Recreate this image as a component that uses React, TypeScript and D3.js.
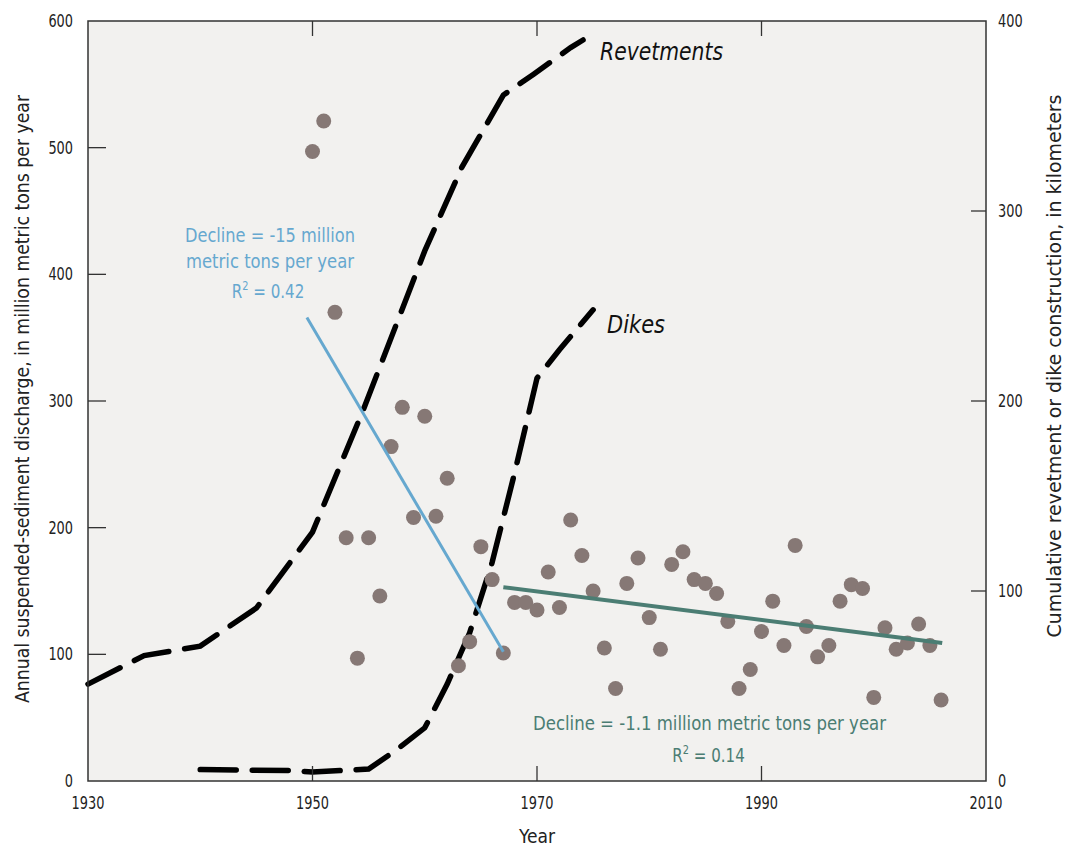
import React from "react";
import * as d3 from "d3";

const years = d3.range(1950, 2007);
const sediment = [497,521,370,192,97,192,146,264,295,208,288,209,239,91,110,185,159,101,141,141,135,165,137,206,178,150,105,73,156,176,129,104,171,181,159,156,148,126,73,88,118,142,107,186,122,98,107,142,155,152,66,121,104,109,124,107,64];

const revetYears = [1930,1935,1940,1945,1950,1954.5,1960,1963.3,1967,1969.7,1973,1974.1];
const revetKm = [51,66,71,91,131,195,279,323,361,372,386,390];

const dikeYears = [1940,1948,1950,1955,1957.4,1960,1962,1964,1966,1968,1970,1972,1975];
const dikeKm = [6,5.5,4.7,6.3,16,28,51,78,115,162,212,227,248];

const trend1Years = [1949.5, 1967];
const trend1Vals = [366, 102];
const trend2Years = [1967, 2006.1];
const trend2Vals = [153, 109];

const leftTicks = [0,100,200,300,400,500,600];
const rightTicks = [0,100,200,300,400];
const xTicks = [1930,1950,1970,1990,2010];

const FONT = "'Liberation Sans Narrow','Arial Narrow','DejaVu Sans Condensed',sans-serif";

function NumLabel(props: { x: number; y: number; anchor: string; text: string; dy?: string }) {
  const len = props.text.length * 8.2;
  return (
    <text x={props.x} y={props.y} dy={props.dy} textAnchor={props.anchor} fontSize={17} fill="#222"
      textLength={len} lengthAdjust="spacingAndGlyphs">{props.text}</text>
  );
}

export default function App() {
  const W = 1067, H = 848;
  const x0 = 88, x1 = 986, yTop = 21, yBot = 781;
  const x = d3.scaleLinear().domain([1930, 2010]).range([x0, x1]);
  const yL = d3.scaleLinear().domain([0, 600]).range([yBot, yTop]);
  const yR = d3.scaleLinear().domain([0, 400]).range([yBot, yTop]);

  const revetLine = d3.line<number>().x((_, i) => x(revetYears[i])).y((d) => yR(d))(revetKm) || "";
  const dikeLine = d3.line<number>().x((_, i) => x(dikeYears[i])).y((d) => yR(d))(dikeKm) || "";
  const t1 = d3.line<number>().x((_, i) => x(trend1Years[i])).y((d) => yL(d))(trend1Vals) || "";
  const t2 = d3.line<number>().x((_, i) => x(trend2Years[i])).y((d) => yL(d))(trend2Vals) || "";

  const blue = "#66a8cf";
  const green = "#4b7d73";
  const axisColor = "#333";

  return (
    <svg width={W} height={H} style={{ position: "absolute", left: 0, top: 0, background: "#fff" }} fontFamily={FONT}>
      <rect x={x0} y={yTop} width={x1 - x0} height={yBot - yTop} fill="#f2f1ef" />
      {/* data lines */}
      <path d={revetLine} fill="none" stroke="#000" strokeWidth={5.5} strokeDasharray="36 16" strokeLinecap="round" />
      <path d={dikeLine} fill="none" stroke="#000" strokeWidth={5.5} strokeDasharray="36 16" strokeLinecap="round" />
      {years.map((yr, i) => (
        <circle key={yr} cx={x(yr)} cy={yL(sediment[i])} r={7.5} fill="#867875" />
      ))}
      <path d={t1} fill="none" stroke={blue} strokeWidth={3} />
      <path d={t2} fill="none" stroke={green} strokeWidth={4} />

      {/* frame */}
      <rect x={x0} y={yTop} width={x1 - x0} height={yBot - yTop} fill="none" stroke={axisColor} strokeWidth={1.5} />
      {leftTicks.slice(1, -1).map((t) => (
        <line key={"l" + t} x1={x0} x2={x0 + 18} y1={yL(t)} y2={yL(t)} stroke={axisColor} strokeWidth={1.3} />
      ))}
      {rightTicks.slice(1, -1).map((t) => (
        <line key={"r" + t} x1={x1} x2={x1 - 15} y1={yR(t)} y2={yR(t)} stroke={axisColor} strokeWidth={1.3} />
      ))}
      {xTicks.slice(1, -1).map((t) => (
        <g key={"x" + t}>
          <line x1={x(t)} x2={x(t)} y1={yBot} y2={yBot - 15} stroke={axisColor} strokeWidth={1.3} />
          <line x1={x(t)} x2={x(t)} y1={yTop} y2={yTop + 15} stroke={axisColor} strokeWidth={1.3} />
        </g>
      ))}

      {/* tick labels */}
      {leftTicks.map((t) => (
        <NumLabel key={"ll" + t} x={73} y={yL(t)} dy="0.35em" anchor="end" text={String(t)} />
      ))}
      {rightTicks.map((t) => (
        <NumLabel key={"rl" + t} x={998} y={yR(t)} dy="0.35em" anchor="start" text={String(t)} />
      ))}
      {xTicks.map((t) => (
        <NumLabel key={"xl" + t} x={x(t)} y={809} anchor="middle" text={String(t)} />
      ))}

      {/* axis titles */}
      <text x={537} y={843} textAnchor="middle" fontSize={20} fill="#222" textLength={36} lengthAdjust="spacingAndGlyphs">Year</text>
      <text transform={`translate(29,399) rotate(-90)`} textAnchor="middle" fontSize={20} fill="#222"
        textLength={608} lengthAdjust="spacingAndGlyphs">
        Annual suspended-sediment discharge, in million metric tons per year
      </text>
      <text transform={`translate(1061,366) rotate(-90)`} textAnchor="middle" fontSize={20} fill="#222"
        textLength={543} lengthAdjust="spacingAndGlyphs">
        Cumulative revetment or dike construction, in kilometers
      </text>

      {/* line labels */}
      <text x={600} y={60} fontSize={24} fontStyle="italic" fill="#111" textLength={123} lengthAdjust="spacingAndGlyphs">Revetments</text>
      <text x={607} y={333} fontSize={24} fontStyle="italic" fill="#111" textLength={58} lengthAdjust="spacingAndGlyphs">Dikes</text>

      {/* trend annotations */}
      <g fill={blue} fontSize={20} textAnchor="middle">
        <text x={270} y={242} textLength={170} lengthAdjust="spacingAndGlyphs">Decline = -15 million</text>
        <text x={270} y={268} textLength={168} lengthAdjust="spacingAndGlyphs">metric tons per year</text>
        <g transform="translate(268,298) scale(0.84,1)">
          <text x={0} y={0}>R<tspan dy={-8} fontSize={13}>2</tspan><tspan dy={8}> = 0.42</tspan></text>
        </g>
      </g>
      <g fill={green} fontSize={20} textAnchor="middle">
        <text x={709.5} y={730} textLength={353} lengthAdjust="spacingAndGlyphs">Decline = -1.1 million metric tons per year</text>
        <g transform="translate(708.5,762) scale(0.84,1)">
          <text x={0} y={0}>R<tspan dy={-8} fontSize={13}>2</tspan><tspan dy={8}> = 0.14</tspan></text>
        </g>
      </g>
    </svg>
  );
}
